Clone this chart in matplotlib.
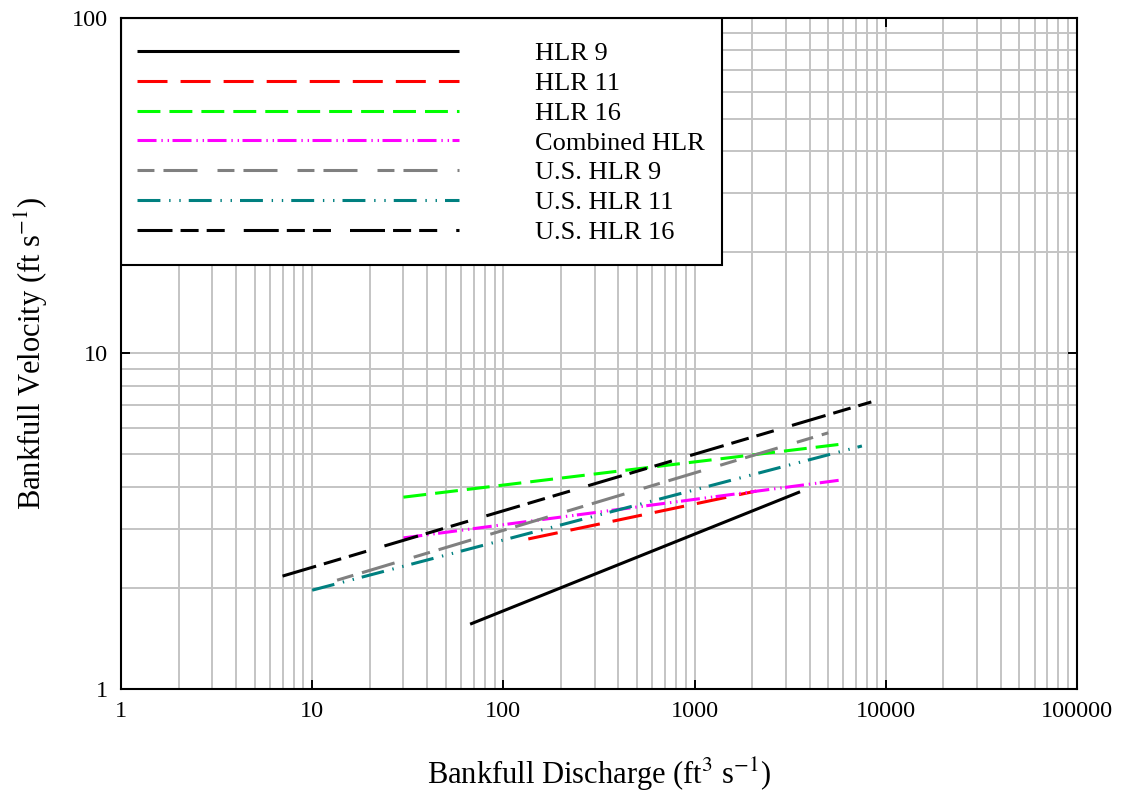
import matplotlib
matplotlib.use("Agg")
import matplotlib.pyplot as plt
import matplotlib.patches as patches

# regression lines, endpoints (Q in ft3/s, V in ft/s)
names = ["HLR 9", "HLR 11", "HLR 16", "Combined HLR",
         "U.S. HLR 9", "U.S. HLR 11", "U.S. HLR 16"]
q_start = [67, 135, 30, 30, 13.5, 10, 7]
q_end = [3560, 2100, 5900, 5900, 5000, 7500, 8400]
v_start = [1.56, 2.80, 3.73, 2.82, 2.11, 1.97, 2.17]
v_end = [3.87, 3.89, 5.37, 4.20, 5.80, 5.30, 7.17]

x_ticks = [1, 10, 100, 1000, 10000, 100000]
y_ticks = [1, 10, 100]

colors = ["black", "#ff0000", "#00ff00", "#ff00ff", "#808080", "#008080", "black"]
# dash patterns in points (not scaled by line width)
dash_styles = [
    None,
    (21.6, 9.4),
    (16.5, 6.5),
    (13.7, 3.5, 1, 3.5, 1, 2.5),
    (12.2, 6.5, 24.5, 14.4),
    (16.5, 6.3, 1, 6.3, 1, 5.8),
    (25.2, 5.8, 13, 5.8, 13, 13.7),
]

plt.rcParams["font.family"] = ["Liberation Serif", "DejaVu Serif"]
plt.rcParams["mathtext.fontset"] = "stix"
plt.rcParams["lines.scale_dashes"] = False

fig = plt.figure(figsize=(11.22, 7.99), dpi=100)
ax = fig.add_axes([0.1078, 0.1377, 0.8521, 0.8398])

for i in range(len(names)):
    line, = ax.plot([q_start[i], q_end[i]], [v_start[i], v_end[i]],
                    color=colors[i], lw=2.2, label=names[i],
                    solid_capstyle="butt", dash_capstyle="butt")
    if dash_styles[i] is not None:
        line.set_dashes(dash_styles[i])

ax.set_xscale("log")
ax.set_yscale("log")
ax.set_xlim(1, 100000)
ax.set_ylim(1, 100)

ax.set_xticks(x_ticks)
ax.set_xticklabels([str(v) for v in x_ticks])
ax.set_yticks(y_ticks)
ax.set_yticklabels([str(v) for v in y_ticks])
ax.tick_params(which="major", direction="in", length=6.5, width=1.4,
               top=True, right=True, labelsize=17.5, pad=9)
ax.tick_params(which="minor", length=0, top=True, right=True)

ax.set_axisbelow(True)
ax.grid(which="both", color="#c4c4c4", lw=1.4)
for s in ax.spines.values():
    s.set_linewidth(1.5)

ax.set_xlabel("Bankfull Discharge (ft$^{3}$ s$^{-1}$)", fontsize=22, labelpad=24)
ax.set_ylabel("Bankfull Velocity (ft s$^{-1}$)", fontsize=22, labelpad=16)

# legend box
box = patches.Rectangle((0, 0.632), 0.629, 0.368, transform=ax.transAxes,
                        facecolor="white", edgecolor="black", lw=1.5, zorder=2.5)
ax.add_patch(box)
leg = ax.legend(loc="upper left", bbox_to_anchor=(0.0167, 0.9645),
                frameon=False, fontsize=19, borderpad=0, borderaxespad=0,
                handlelength=12.2, handletextpad=2.9, labelspacing=0.24)
leg.set_zorder(5)

fig.savefig("out.png", dpi=100)
